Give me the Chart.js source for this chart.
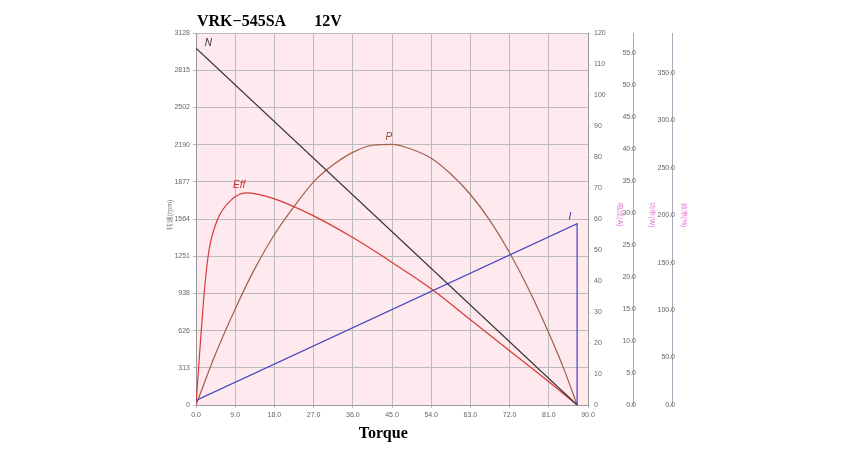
<!DOCTYPE html>
<html><head><meta charset="utf-8">
<script src="https://cdn.jsdelivr.net/npm/chart.js@4"></script>
<style>body{margin:0;background:#fff}canvas{display:block}</style>
</head><body><canvas id="c" width="847" height="458"></canvas>
<script>
const torqueN=[0,87.5];
const speedN=[3000,0];
const torqueI=[0,87.5,87.5];
const currentI=[1.5,58.5,0];
const torqueP=[0,4.5,9,13.5,18,22.5,27,31.5,36,40.5,45,49.5,54,58.5,63,67.5,72,76.5,81,84.5,87.5];
const powerP=[0,16.5,31,44,55,64,72,77.5,81.5,83.8,84.1,82.5,79.6,74.5,67.9,59.5,49.1,37,23.2,11.5,0];
const torqueE=[0,0.5,1,2,3,5,8,11.5,18,27,36,45,54,63,72,81,87.5];
const effE=[0,10,20,38,50,60,66,68.4,66.5,61,54,46,37.5,27.5,17.5,7.5,0];
const xTicks=[0,9,18,27,36,45,54,63,72,81,90];
const pts=(xs,ys)=>xs.map((x,i)=>({x:x,y:ys[i]}));
const tickFont={size:7,family:'Liberation Sans'};
const gray='#666';
const labels={
  id:'labels',
  afterDraw(ch){
    const c=ch.ctx,x=ch.scales.x,y=ch.scales.y,y1=ch.scales.y1;
    c.save();
    c.font='italic 10px Liberation Sans';
    c.fillStyle='#333';c.fillText('N',x.getPixelForValue(2),y.getPixelForValue(3000)-2);
    c.fillStyle='#a0522d';c.fillText('P',x.getPixelForValue(43.5),y1.getPixelForValue(84.1)-4);
    c.fillStyle='#d03030';c.fillText('Eff',x.getPixelForValue(8.5),y1.getPixelForValue(68.4)-5);
    c.fillStyle='#3030a0';c.fillText('I',x.getPixelForValue(85.5),y1.getPixelForValue(58.5)-4);
    c.fillStyle='#000';c.font='bold 16px Liberation Serif';
    c.fillText('VRK\u2212545SA       12V',197,26);
    c.textAlign='center';c.fillText('Torque',x.getPixelForValue(43),438);
    c.fillStyle='#e070d0';c.font='7px Liberation Sans';
    const vt=(t,px,py)=>{c.save();c.translate(px,py);c.rotate(Math.PI/2);c.fillText(t,0,0);c.restore();};
    c.save();c.translate(172,215);c.rotate(-Math.PI/2);c.fillStyle='#777';c.fillText('转速(rpm)',0,0);c.restore();
    vt('电流(A)',618,215);vt('功率(W)',650,215);vt('效率(%)',682,215);
    c.restore();
  }
};
const bg={id:'bg',beforeDraw(ch){const a=ch.chartArea,c=ch.ctx;c.save();c.fillStyle='#fde9ee';c.fillRect(a.left,a.top,a.right-a.left,a.bottom-a.top);c.restore();}};
const dropMax=s=>{s.ticks=s.ticks.filter(t=>t.value<s.max-1e-6);};
new Chart(document.getElementById('c'),{
  type:'scatter',
  data:{datasets:[
    {label:'N',data:pts(torqueN,speedN),showLine:true,borderColor:'#333',borderWidth:1.2,pointRadius:0,yAxisID:'y'},
    {label:'I',data:pts(torqueI,currentI),showLine:true,borderColor:'#4444c0',borderWidth:1.2,pointRadius:0,yAxisID:'y1'},
    {label:'P',data:pts(torqueP,powerP),showLine:true,borderColor:'#a0604a',borderWidth:1.2,pointRadius:0,cubicInterpolationMode:'monotone',yAxisID:'y1'},
    {label:'Eff',data:pts(torqueE,effE),showLine:true,borderColor:'#d83a3a',borderWidth:1.2,pointRadius:0,cubicInterpolationMode:'monotone',yAxisID:'y1'}
  ]},
  options:{responsive:false,animation:false,
    layout:{padding:{left:150,top:33,right:140,bottom:0}},
    plugins:{legend:{display:false},tooltip:{enabled:false}},
    scales:{
      x:{type:'linear',min:0,max:90,afterBuildTicks:s=>{s.ticks=xTicks.map(v=>({value:v}));},
        afterFit:s=>{s.height=53;},
        ticks:{font:tickFont,color:gray,callback:v=>v.toFixed(1),maxRotation:0},
        grid:{color:'#bbb',tickLength:3},border:{color:'#999'}},
      y:{min:0,max:3128,afterBuildTicks:s=>{const t=[];for(let i=0;i<=10;i++)t.push({value:312.8*i});s.ticks=t;},
        afterFit:s=>{s.width=46;},
        ticks:{font:tickFont,color:gray,callback:v=>Math.round(v)},grid:{color:'#bbb',tickLength:3},border:{color:'#999'}},
      y1:{position:'right',min:0,max:120,afterFit:s=>{s.width=45;},
        ticks:{stepSize:10,font:tickFont,color:gray},grid:{drawOnChartArea:false,tickLength:3},border:{color:'#999'}},
      y2:{position:'right',min:0,max:58.1,afterFit:s=>{s.width=39;},afterBuildTicks:dropMax,
        ticks:{stepSize:5,mirror:true,font:tickFont,color:gray,callback:v=>v.toFixed(1)},grid:{drawOnChartArea:false,tickLength:-4},border:{color:'#aab'}},
      y3:{position:'right',min:0,max:392,afterFit:s=>{s.width=35;},afterBuildTicks:dropMax,
        ticks:{stepSize:50,mirror:true,font:tickFont,color:gray,callback:v=>v.toFixed(1)},grid:{drawOnChartArea:false,tickLength:-4},border:{color:'#aab'}}
    }
  },
  plugins:[bg,labels]
});
</script></body></html>
